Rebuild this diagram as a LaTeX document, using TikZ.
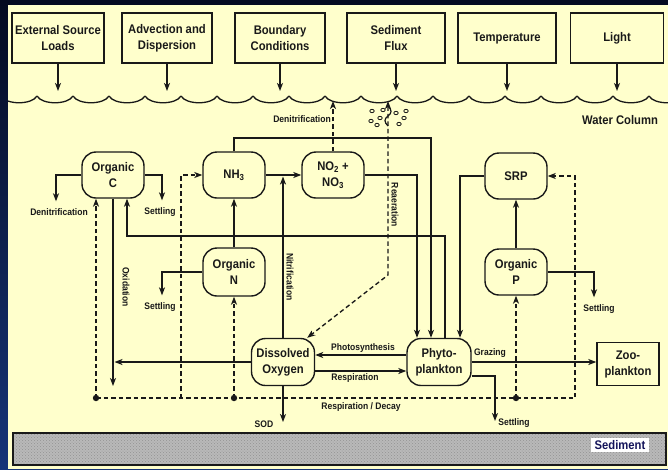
\documentclass[tikz,border=0pt]{standalone}
\usepackage{fontspec}
\setmainfont{Liberation Sans}[FakeStretch=0.9]
\usepackage{xcolor}
\usepackage{tikz}
\usetikzlibrary{arrows.meta}
\usetikzlibrary{patterns}

\definecolor{cream}{RGB}{255,255,204}
\definecolor{ink}{RGB}{25,25,25}
\definecolor{navytop}{RGB}{4,10,32}
\definecolor{navybot}{RGB}{22,52,120}
\definecolor{sedtext}{RGB}{20,20,90}

\newcommand{\boxfont}{\fontsize{12.5}{16}\selectfont\bfseries}
\newcommand{\lblfont}{\fontsize{9.5}{10.5}\selectfont\bfseries}

\tikzset{
    driver/.style={draw=ink, line width=1.3pt, fill=cream, minimum height=50, align=center, font=\boxfont, text=ink, inner sep=2},
    pool/.style={draw=ink, line width=1.4pt, fill=cream, rounded corners=14, minimum width=62, minimum height=46, align=center, font=\boxfont, text=ink, inner sep=2},
    lbl/.style={font=\lblfont, text=ink, inner sep=1},
    flow/.style={draw=ink, line width=1.35pt, -{Stealth[length=8pt, width=6pt, inset=2.2pt]}},
    dflow/.style={flow, dash pattern=on 4.5pt off 3pt},
}

\begin{document}
\begin{tikzpicture}[x=1pt, y=-1pt]
            \useasboundingbox (0,0) rectangle (668,469);
            \shade[top color=navytop, bottom color=navybot] (0,0) rectangle (668,469);
            \fill[cream] (8,5) rectangle (668,469);

            \fill[gray!55] (13,433) rectangle (666,465);
            \fill[pattern=crosshatch dots, pattern color=gray!85] (13,433) rectangle (666,465);
            \draw[ink, line width=1.5pt] (13,433) rectangle (666,465);
            \node[fill=white, inner xsep=4, inner ysep=2, font=\boxfont, text=sedtext] (sed) at (620,445) {Sediment};

            \node[driver, minimum width=92] (ext) at (58,38) {External Source\\Loads};
            \node[driver, minimum width=90] (adv) at (167,38) {Advection and\\Dispersion};
            \node[driver, minimum width=90] (bnd) at (280,38) {Boundary\\Conditions};
            \node[driver, minimum width=98] (flux) at (396,38) {Sediment\\Flux};
            \node[driver, minimum width=98] (temp) at (507,38) {Temperature};
            \node[driver, minimum width=93] (light) at (617,38) {Light};

            \coordinate (surf) at (0,91);
            \foreach \b in {ext,adv,bnd,flux,temp,light}
                \draw[flow] (\b.south) -- (\b.south |- surf);

            \begin{scope}
                \clip (8,5) rectangle (668,469);
                \foreach \x in {1,37,...,649}
                    \draw[ink, line width=1.3pt] (\x,96) .. controls (\x+5,105) and (\x+31,105) .. (\x+36,96);
            \end{scope}
            \node[font=\boxfont, text=ink] (wc) at (620,120) {Water Column};

            \node[pool] (orgC) at (113,175) {Organic\\C};
            \node[pool] (nh3) at (234,175) {NH\textsubscript{3}};
            \node[pool] (nox) at (333,175) {NO\textsubscript{2} +\\NO\textsubscript{3}};
            \node[pool] (srp) at (516,176) {SRP};
            \node[pool, minimum height=48] (orgN) at (234,272) {Organic\\N};
            \node[pool] (orgP) at (516,272) {Organic\\P};
            \node[pool, minimum width=63, minimum height=47] (oxy) at (283,362) {Dissolved\\Oxygen};
            \node[pool, minimum width=64, minimum height=47] (phyto) at (439,362) {Phyto-\\plankton};
            \node[driver, minimum width=62, minimum height=43, line width=1.4pt] (zoo) at (628,364) {Zoo-\\plankton};

            \node[lbl] (dnC) at (59,212) {Denitrification};
            \node[lbl] (stC) at (160,212) {Settling};
            \node[lbl] (stN) at (160,307) {Settling};
            \node[lbl] (stP) at (599,309) {Settling};
            \node[lbl] (stPh) at (514,423) {Settling};
            \node[lbl] (sod) at (264,424) {SOD};
            \node[lbl] (dnN) at (302,119) {Denitrification};
            \node[lbl, rotate=-90] (oxl) at (126,287) {Oxidation};
            \node[lbl, rotate=-90] (nitl) at (290,277) {Nitrification};
            \node[lbl, rotate=-90] (rea) at (395,205) {Reaeration};
            \node[lbl] (photo) at (363,348) {Photosynthesis};
            \node[lbl] (resp) at (355,378) {Respiration};
            \node[lbl] (graz) at (490,353) {Grazing};
            \node[lbl] (decay) at (361,407) {Respiration / Decay};

            \draw[flow, shorten >=6] (orgC.west) -| ([xshift=-3]dnC.north);
            \draw[flow, shorten >=6] (orgC.east) -| ([xshift=2]stC.north);
            \draw[flow, shorten >=6] (orgN.west) -| ([xshift=2]stN.north);
            \draw[flow, shorten >=6] (orgP.east) -| ([xshift=-5]stP.north);

            \coordinate (oxend) at (0,386);
            \draw[flow] (orgC.south) -- (orgC.south |- oxend);
            \draw[flow, shorten >=1.5] (oxy.west) -- (oxy.west -| orgC.south);

            \coordinate (dk) at (0,398);
            \coordinate (dleft) at (96,398);
            \coordinate (dright) at (575,398);
            \coordinate (dnh) at (181,398);
            \draw[dflow] (dleft) -- (dright) |- (srp.east);
            \draw[dflow] (dleft) -- (dleft |- orgC.south);
            \draw[dflow] (dnh) |- (nh3.west);
            \draw[dflow] (orgN.south |- dk) -- (orgN.south);
            \draw[dflow] (orgP.south |- dk) -- (orgP.south);
            \fill[ink] (dleft) circle (3.2);
            \fill[ink] (orgN.south |- dk) circle (3.2);
            \fill[ink] (orgP.south |- dk) circle (3.2);

            \draw[flow, shorten >=2] (oxy.south) -- (oxy.south |- sod);
            \draw[flow, shorten >=1.5] (oxy.north) -- (oxy.north |- nh3.east);
            \draw[flow] (nh3.east) -- (nox.west);
            \draw[flow] (orgN.north) -- (nh3.south);
            \draw[flow] (orgP.north) -- (srp.south);

            \coordinate (pA) at (417,0);
            \coordinate (pB) at (431,138);
            \coordinate (pC) at (445,0);
            \coordinate (pD) at (460,0);
            \coordinate (cback) at (127,236);
            \draw[flow, line width=1.05pt] (nox.east) -| (pA |- phyto.north);
            \draw[flow, line width=1.05pt] (nh3.north) |- (pB) -- (pB |- phyto.north);
            \draw[flow, line width=1.05pt] (pC |- phyto.north) |- (cback) -- (cback |- orgC.south);
            \draw[flow, line width=1.05pt] (srp.west) -| (pD |- phyto.north);

            \coordinate (ps) at (0,355);
            \coordinate (rs) at (0,371);
            \draw[flow] (phyto.west |- ps) -- (oxy.east |- ps);
            \draw[flow] (oxy.east |- rs) -- (phyto.west |- rs);
            \draw[flow] (phyto.east) -- (phyto.east -| zoo.west);

            \coordinate (phlow) at (0,376);
            \coordinate (phset) at (495,421);
            \draw[flow] (phyto.east |- phlow) -| (phset);

            \coordinate (reatop) at (388,101);
            \coordinate (reabend) at (388,275);
            \draw[dflow, {Stealth[length=8pt, width=6pt, inset=2.2pt]}-{Stealth[length=8pt, width=6pt, inset=2.2pt]}] (reatop) -- (reabend) -- (oxy.45);
            \draw[ink, line width=1.2pt] (388,126) .. controls (384,122) and (384,119) .. (388,116) .. controls (392,113) and (392,110) .. (388,106);
            \foreach \p in {(372,111),(383,110),(371,121),(380,118),(377,125),(396,113),(406,111),(404,118),(399,124)}
                \draw[ink, line width=0.8pt] \p ellipse (2.2 and 1.7);

            \draw[dflow] (nox.north) -- (nox.north |- reatop);
        \end{tikzpicture}
\end{document}
